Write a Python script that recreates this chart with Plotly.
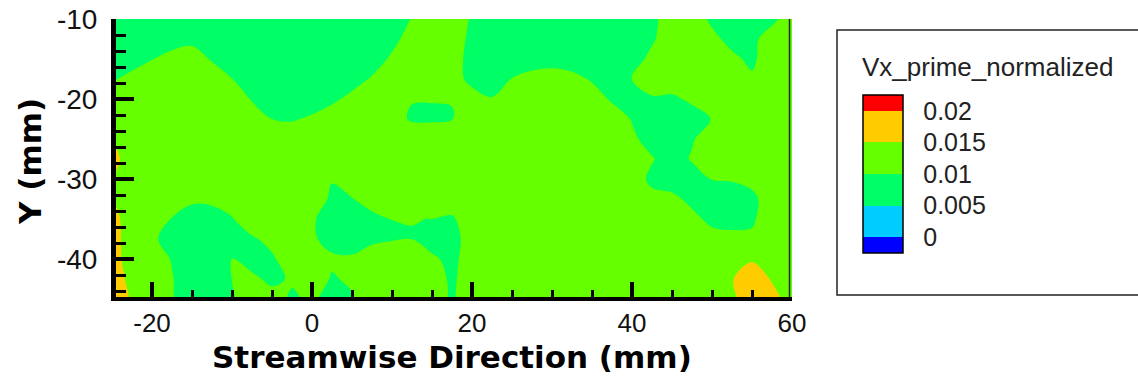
import numpy as np
import plotly.graph_objects as go

# ---- measurement grid (mm) ----
x_mm = [-25, -22.5, -20, -17.5, -15, -12.5, -10, -7.5, -5, -2.5, 0, 2.5, 5, 7.5, 10,
        12.5, 15, 17.5, 20, 22.5, 25, 27.5, 30, 32.5, 35, 37.5, 40, 42.5, 45, 47.5,
        50, 52.5, 55, 57.5, 60]
y_mm = [-10, -12.5, -15, -17.5, -20, -22.5, -25, -27.5, -30, -32.5, -35, -37.5,
        -40, -42.5, -45]

# ---- Vx' normalized, in units of 1e-3, one row per y station ----
vx_milli = [
    # y = -10
    [7.5, 7.5, 7.5, 7.5, 7.5, 7.5, 7.5, 7.5, 7.5, 7.5, 7.5, 7.5, 7.5, 7.5, 8.0,
     10.2, 12.5, 12.1, 9.6, 7.5, 7.5, 7.5, 7.5, 7.5, 7.5, 7.5, 7.5, 9.2, 11.7, 11.5,
     9.4, 7.5, 7.7, 9.4, 11.2],
    # y = -12.5
    [7.5, 7.5, 7.8, 8.7, 9.3, 7.8, 7.5, 7.5, 7.5, 7.5, 7.5, 7.5, 7.5, 7.5, 9.1,
     11.3, 12.5, 11.7, 9.2, 7.5, 7.5, 7.5, 7.5, 7.5, 7.5, 7.5, 7.5, 9.6, 11.8, 12.5,
     10.8, 9.0, 9.4, 11.2, 12.5],
    # y = -15
    [7.5, 8.7, 9.9, 11.0, 11.3, 9.74, 8.1, 7.5, 7.5, 7.5, 7.5, 7.5, 7.5, 8.5, 10.5,
     12.5, 12.5, 11.4, 8.9, 7.5, 7.8, 8.56, 8.85, 8.6, 7.5, 7.5, 8.7, 10.8, 12.5, 12.5,
     12.5, 10.7, 9.3, 12.2, 12.5],
    # y = -17.5
    [9.65, 10.9, 12.1, 12.5, 12.5, 11.66, 10.05, 8.2, 7.5, 7.5, 7.5, 7.5, 8.8, 10.3, 12.0,
     12.5, 12.5, 11.2, 9.2, 8.5, 10.1, 11.05, 11.35, 10.8, 9.7, 7.9, 10.15, 11.9, 11.9, 12.5,
     12.5, 12.4, 10.5, 12.5, 12.5],
    # y = -20
    [12.5, 12.5, 12.5, 12.5, 12.5, 12.5, 11.7, 9.77, 7.85, 7.5, 8.3, 9.4, 10.8, 12.3, 12.3,
     10.13, 10.11, 10.06, 11.15, 10.17, 12.05, 12.5, 12.5, 12.5, 11.4, 9.6, 8.9, 9.6, 9.4, 10.6,
     11.9, 12.5, 12.5, 12.5, 12.5],
    # y = -22.5
    [12.5, 12.5, 12.5, 12.5, 12.5, 12.5, 12.5, 11.4, 9.98, 9.67, 10.5, 11.6, 12.5, 12.5, 11.1,
     9.64, 9.6, 9.9, 11.7, 12.3, 12.5, 12.5, 12.5, 12.5, 12.5, 11.6, 9.83, 7.5, 7.5, 8.5,
     10.12, 12.5, 12.5, 12.5, 12.5],
    # y = -25
    [14.8, 12.5, 12.5, 12.5, 12.5, 12.5, 12.5, 12.5, 12.5, 12.2, 12.5, 12.5, 12.5, 12.5, 12.5,
     12.1, 12.1, 12.4, 12.5, 12.5, 12.5, 12.5, 12.5, 12.5, 12.5, 12.5, 10.54, 8.87, 7.73, 9.7,
     11.66, 12.5, 12.5, 12.5, 12.5],
    # y = -27.5
    [16.67, 12.5, 12.5, 12.5, 12.5, 12.5, 12.5, 12.5, 12.5, 12.5, 12.5, 12.3, 12.5, 12.5, 12.5,
     12.5, 12.5, 12.5, 12.5, 12.5, 12.5, 12.5, 12.5, 12.5, 12.5, 12.5, 12.4, 10.23, 8.5, 10.3,
     12.0, 12.5, 12.5, 12.5, 12.5],
    # y = -30
    [15.2, 12.5, 12.5, 12.5, 12.5, 12.5, 12.5, 12.5, 12.5, 12.5, 12.5, 10.15, 10.6, 12.5, 12.5,
     12.5, 12.5, 12.5, 12.5, 12.5, 12.5, 12.5, 12.5, 12.5, 12.5, 12.5, 11.6, 9.3, 8.3, 8.46,
     10.15, 10.33, 10.9, 12.2, 12.5],
    # y = -32.5
    [15.3, 12.5, 12.5, 11.9, 10.6, 10.84, 11.2, 12.5, 12.5, 12.5, 11.67, 9.5, 9.93, 11.3, 12.4,
     12.5, 12.3, 11.6, 12.5, 12.5, 12.5, 12.5, 12.5, 12.5, 12.5, 12.5, 11.5, 10.9, 10.8, 9.14,
     7.7, 7.83, 9.23, 11.7, 12.5],
    # y = -35
    [16.7, 12.5, 11.3, 9.87, 8.4, 8.34, 9.83, 11.9, 12.5, 12.5, 10.46, 8.27, 7.83, 9.18, 10.02,
     10.02, 9.99, 9.62, 11.76, 12.5, 12.5, 12.5, 12.5, 12.5, 12.5, 12.5, 12.5, 12.5, 12.5, 10.9,
     9.12, 8.63, 9.53, 12.0, 12.5],
    # y = -37.5
    [17.0, 12.5, 10.68, 8.5, 7.5, 7.5, 8.5, 9.6, 10.87, 12.4, 10.5, 8.76, 8.25, 9.37, 9.76,
     9.96, 8.6, 8.9, 11.4, 12.5, 12.5, 12.5, 12.5, 12.5, 12.5, 12.5, 12.5, 12.5, 12.5, 12.5,
     11.25, 11.1, 10.6, 12.4, 12.5],
    # y = -40
    [17.3, 12.5, 11.9, 9.77, 7.6, 9.1, 10.1, 8.66, 9.57, 11.7, 12.3, 10.55, 10.5, 11.6, 12.26,
     12.1, 10.53, 9.16, 11.65, 12.5, 12.5, 12.5, 12.5, 12.5, 12.5, 12.5, 12.5, 12.5, 12.5, 12.5,
     12.1, 14.15, 14.6, 13.4, 12.5],
    # y = -42.5
    [17.7, 13.5, 12.5, 10.2, 7.7, 8.35, 10.04, 10.7, 9.26, 10.4, 11.8, 9.7, 10.5, 12.5, 12.5,
     12.5, 11.7, 9.4, 11.9, 12.5, 12.5, 12.5, 12.5, 12.5, 12.5, 12.5, 12.5, 12.5, 12.5, 12.5,
     12.3, 14.8, 17.1, 14.7, 12.3],
    # y = -45
    [17.9, 14.6, 12.3, 10.2, 7.7, 7.5, 9.55, 12.05, 11.27, 9.5, 10.6, 8.5, 9.7, 12.2, 12.5,
     12.5, 11.6, 9.6, 12.1, 12.5, 12.5, 12.5, 12.5, 12.5, 12.5, 12.5, 12.5, 12.5, 12.5, 12.5,
     12.3, 14.3, 16.8, 16.2, 13.7],
]

# ---- axis ticks ----
x_ticks = [-20, 0, 20, 40, 60]
x_tick_text = ["-20", "0", "20", "40", "60"]
y_ticks = [-10, -20, -30, -40]
y_tick_text = ["-10", "-20", "-30", "-40"]

# ---- contour levels and band colours ----
contour_levels = [0, 0.005, 0.01, 0.015, 0.02]
level_labels = ["0", "0.005", "0.01", "0.015", "0.02"]
band_colors = ["#0000FF", "#00CCFF", "#00FF66", "#66FF00", "#FFCC00", "#FF0000"]

z = np.array(vx_milli) * 1e-3
level_step = contour_levels[1] - contour_levels[0]

# stepped colour scale: one flat colour per band (6 bands -> positions k/5)
n_bands = len(band_colors)
colorscale = []
for k, c in enumerate(band_colors):
    lo = max(0.0, (k - 0.5) / (n_bands - 1))
    hi = min(1.0, (k + 0.5) / (n_bands - 1))
    colorscale += [[lo, c], [hi, c]]

# ---- page geometry (pixels) ----
W, H = 1138, 382
PL, PR, PT, PB = 116, 792, 19, 297


def fx(px):
    return (px - PL) / (PR - PL)


def fy(py):
    return (PB - py) / (PB - PT)


# colour legend bar geometry
BAR_L, BAR_R, BAR_T, BAR_B = 863, 903, 95, 253
bar_lo = contour_levels[0] - level_step / 2
bar_hi = contour_levels[-1] + level_step / 2

fig = go.Figure()
fig.add_trace(go.Contour(
    x=x_mm, y=y_mm, z=z,
    contours=dict(start=contour_levels[0], end=contour_levels[-1], size=level_step,
                  coloring="fill", showlines=False),
    line=dict(width=0),
    colorscale=colorscale,
    hoverinfo="skip",
    colorbar=dict(
        x=fx(BAR_L), xanchor="left", xpad=0,
        y=fy((BAR_T + BAR_B) / 2), yanchor="middle", ypad=0,
        len=BAR_B - BAR_T, lenmode="pixels",
        thickness=BAR_R - BAR_L, thicknessmode="pixels",
        outlinewidth=1.5, outlinecolor="black",
        tickmode="array", tickvals=contour_levels, ticktext=level_labels,
        ticks="outside", ticklen=15, tickcolor="rgba(0,0,0,0)",
        tickfont=dict(family="Liberation Sans, Arial", size=25, color="#222"),
    ),
))

shapes = []
# separators between legend bands
for v in contour_levels:
    py = BAR_B - (v - bar_lo) / (bar_hi - bar_lo) * (BAR_B - BAR_T)
    shapes.append(dict(type="line", xref="paper", yref="paper",
                       x0=fx(BAR_L), x1=fx(BAR_R), y0=fy(py), y1=fy(py),
                       line=dict(color="black", width=1.5)))
# legend frame
shapes.append(dict(type="rect", xref="paper", yref="paper",
                   x0=fx(837), x1=fx(1150), y0=fy(295), y1=fy(30),
                   line=dict(color="#222", width=1.5), fillcolor="rgba(0,0,0,0)"))
# thin right border of the plot frame
shapes.append(dict(type="line", xref="paper", yref="paper",
                   x0=fx(789.5), x1=fx(789.5), y0=0, y1=1,
                   line=dict(color="#222", width=1.5)))

annotations = [
    dict(text="Vx_prime_normalized", xref="paper", yref="paper",
         x=fx(860), y=fy(67), xanchor="left", yanchor="middle", showarrow=False,
         font=dict(family="Liberation Sans, Arial", size=26, color="#222")),
    dict(text="Streamwise Direction (mm)", xref="paper", yref="paper",
         x=fx(452), y=fy(357), xanchor="center", yanchor="middle", showarrow=False,
         font=dict(family="DejaVu Sans", size=31, color="black", weight="bold")),
    dict(text="Y (mm)", xref="paper", yref="paper", textangle=-90,
         x=fx(30), y=fy(161), xanchor="center", yanchor="middle", showarrow=False,
         font=dict(family="DejaVu Sans", size=31, color="black", weight="bold")),
]

x_tick_font = dict(family="Liberation Sans, Arial", size=26, color="#111")
y_tick_font = dict(family="Liberation Sans, Arial", size=28, color="#111")

fig.update_layout(
    width=W, height=H,
    margin=dict(l=PL, r=W - PR, t=PT, b=H - PB, pad=0, autoexpand=False),
    paper_bgcolor="white", plot_bgcolor="white",
    showlegend=False,
    shapes=shapes,
    annotations=annotations,
    xaxis=dict(
        range=[-24.5, 60], tickmode="array", tickvals=x_ticks, ticktext=x_tick_text,
        ticks="inside", ticklen=15, tickwidth=4, tickcolor="black",
        minor=dict(tickmode="linear", tick0=0, dtick=5, ticks="inside", ticklen=7,
                   tickwidth=2.5, tickcolor="black", showgrid=False),
        showline=True, linewidth=4, linecolor="black", automargin=False,
        showgrid=False, zeroline=False, tickfont=x_tick_font,
    ),
    yaxis=dict(
        range=[-44.75, -10], tickmode="array", tickvals=y_ticks, ticktext=y_tick_text,
        ticks="inside", ticklen=18, tickwidth=4, tickcolor="black",
        minor=dict(tickmode="linear", tick0=0, dtick=2, ticks="inside", ticklen=10,
                   tickwidth=2.5, tickcolor="black", showgrid=False),
        showline=True, linewidth=5, linecolor="black", automargin=False,
        ticklabelstandoff=8,
        showgrid=False, zeroline=False, tickfont=y_tick_font,
    ),
)

fig.write_html("out.html", config={"displayModeBar": False})
